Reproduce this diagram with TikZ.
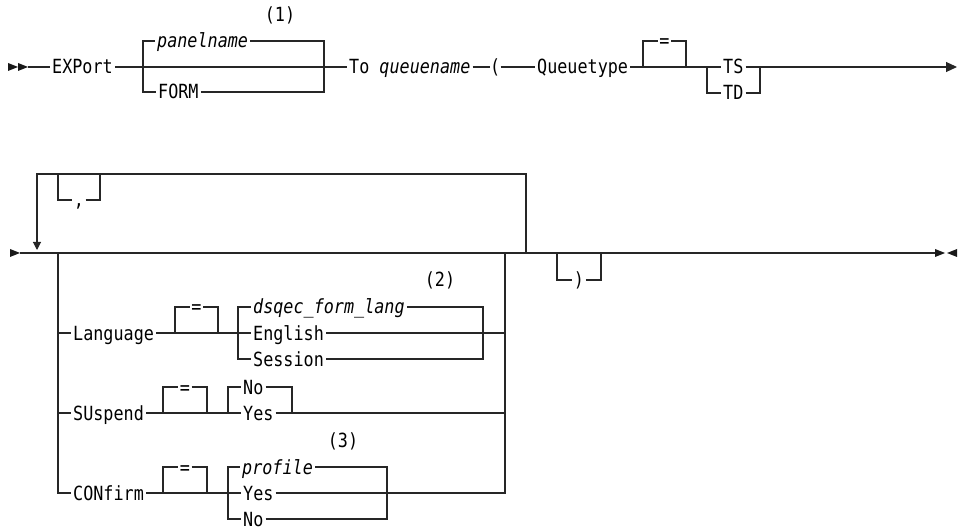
\documentclass[tikz,border=0pt]{standalone}
\usepackage{fontspec}
\newfontfamily\railfont{DejaVu Sans Mono}[FakeStretch=0.86]
\usetikzlibrary{arrows.meta}
\tikzset{ kw/.style = { anchor = west % keyword
        , inner xsep = 2bp
        , inner ysep = 0pt
        , text height = 14bp
        , text depth = 0pt
        , font = \railfont\fontsize{19.5bp}{21bp}\selectfont
        }
        , vn/.style = { kw % variable name
        , font = \railfont\itshape\fontsize{19.5bp}{21bp}\selectfont
        }
        , fn/.style = { kw % footnote or sign on a rail
        , anchor = center
        , inner xsep = 1.5bp
        }
        }

\begin{document}
\begin{tikzpicture}[x=1bp, y=-1bp,
        rail_style/.style={draw=black!85, line width=1.1bp},
        tip_style/.style={fill=black!90},
        end_arrow_style/.style={rail_style, -{Triangle[length=11bp,width=10bp]}},
        loop_arrow_style/.style={rail_style, -{Triangle[length=8bp,width=8bp]}}]
        \useasboundingbox (0,0) rectangle (965,529);

        % first line
        \coordinate (s1) at (28,67);
        \fill [tip_style] (8,63) -- (18,67) -- (8,71) -- cycle;
        \fill [tip_style] (18,63) -- (28,67) -- (18,71) -- cycle;
        \node [kw] (export) at (50,67) {EXPort};
        \coordinate (p1l) at (143,67);
        \coordinate (p1r) at (324,67);
        \node [vn] (panel) at (155,41) {panelname};
        \node [kw] (form) at (156,92) {FORM};
        \node [fn] (n1) at (280,15) {(1)};
        \node [kw] (to) at (347,67) {To \textit{queuename}};
        \node [kw, inner xsep=0pt] (lp) at (490,67) {(};
        \node [kw] (qtype) at (535,67) {Queuetype};
        \coordinate (q1l) at (643,67);
        \coordinate (q1r) at (686,67);
        \node [fn] (eq1) at (664.5,41) {=};
        \coordinate (t1l) at (707,67);
        \coordinate (t1r) at (760,67);
        \node [kw] (ts) at (721,67) {TS};
        \node [kw] (td) at (721,93) {TD};
        \coordinate (e1) at (957,67);

        \draw [rail_style] (s1) -- (export);
        \draw [rail_style] (export) -- (p1l) -- (p1r) -- (to);
        \draw [rail_style] (p1l) |- (panel);
        \draw [rail_style] (panel) -| (p1r);
        \draw [rail_style] (p1l) |- (form) -| (p1r);
        \draw [rail_style] (to) -- (lp);
        \draw [rail_style] (lp) -- (qtype);
        \draw [rail_style] (qtype) -- (q1l) -- (q1r) -- (t1l) -- (ts);
        \draw [rail_style] (q1l) |- (eq1) -| (q1r);
        \draw [rail_style] (t1l) |- (td) -| (t1r);
        \draw [rail_style] (ts) -- (t1r);
        \draw [end_arrow_style] (t1r) -- (e1);

        % second line
        \coordinate (s2) at (20,253);
        \fill [tip_style] (10,249) -- (20,253) -- (10,257) -- cycle;
        \coordinate (c2l) at (58,253);
        \coordinate (c2r) at (505,253);
        \coordinate (lpr) at (526,253);
        \coordinate (lpt) at (37,174);
        \coordinate (lpa) at (37,250);
        \coordinate (cml) at (58,174);
        \coordinate (cmr) at (100,174);
        \node [fn] (comma) at (79,200) {,};
        \coordinate (rpl) at (557,253);
        \coordinate (rpr) at (601,253);
        \node [fn] (rp) at (579,280) {)};
        \coordinate (e2) at (935,253);
        \fill [tip_style] (935,249) -- (945,253) -- (935,257) -- cycle;
        \fill [tip_style] (957,249) -- (947,253) -- (957,257) -- cycle;

        \draw [rail_style] (s2) -- (c2l) -- (c2r) -- (lpr) -- (rpl) -- (rpr) -- (e2);
        \draw [loop_arrow_style] (lpr) |- (lpt) -- (lpa);
        \draw [rail_style] (cml) |- (comma) -| (cmr);
        \draw [rail_style] (rpl) |- (rp) -| (rpr);

        % Language
        \node [kw] (lang) at (71,333) {Language};
        \coordinate (la1) at (175,333);
        \coordinate (la2) at (218,333);
        \node [fn] (eq2) at (196.5,307) {=};
        \coordinate (la3) at (238,333);
        \coordinate (la4) at (483,333);
        \node [vn] (dsq) at (251,307) {dsqec\_form\_lang};
        \node [kw] (eng) at (251,333) {English};
        \node [kw] (sess) at (251,359) {Session};
        \node [fn] (n2) at (440,280) {(2)};
        \draw [rail_style] (c2l) |- (lang);
        \draw [rail_style] (lang) -- (la1) -- (la2) -- (eng);
        \draw [rail_style] (la1) |- (eq2) -| (la2);
        \draw [rail_style] (la3) |- (dsq) -| (la4);
        \draw [rail_style] (la3) |- (sess) -| (la4);
        \draw [rail_style] (eng) -| (c2r);

        % SUspend
        \node [kw] (susp) at (71,413) {SUspend};
        \coordinate (su1) at (163,413);
        \coordinate (su2) at (207,413);
        \node [fn] (eq3) at (185,387) {=};
        \coordinate (su3) at (228,413);
        \coordinate (su4) at (292,413);
        \node [kw] (no1) at (241,387) {No};
        \node [kw] (yes1) at (241,413) {Yes};
        \draw [rail_style] (c2l) |- (susp);
        \draw [rail_style] (susp) -- (su1) -- (su2) -- (yes1);
        \draw [rail_style] (su1) |- (eq3) -| (su2);
        \draw [rail_style] (su3) |- (no1) -| (su4);
        \draw [rail_style] (yes1) -| (c2r);

        % CONfirm
        \node [kw] (conf) at (71,493) {CONfirm};
        \coordinate (cf1) at (163,493);
        \coordinate (cf2) at (207,493);
        \node [fn] (eq4) at (185,467) {=};
        \coordinate (cf3) at (228,493);
        \coordinate (cf4) at (387,493);
        \node [vn] (prof) at (240,467) {profile};
        \node [kw] (yes2) at (241,493) {Yes};
        \node [kw] (no2) at (241,519) {No};
        \node [fn] (n3) at (343,440) {(3)};
        \draw [rail_style] (c2l) |- (conf);
        \draw [rail_style] (conf) -- (cf1) -- (cf2) -- (yes2);
        \draw [rail_style] (cf1) |- (eq4) -| (cf2);
        \draw [rail_style] (cf3) |- (prof) -| (cf4);
        \draw [rail_style] (cf3) |- (no2) -| (cf4);
        \draw [rail_style] (yes2) -| (c2r);
\end{tikzpicture}
\end{document}
